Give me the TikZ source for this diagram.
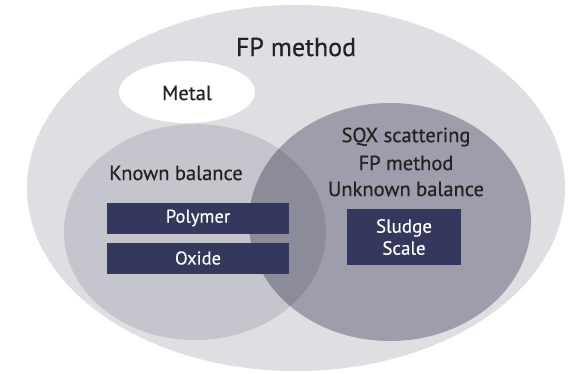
\documentclass[tikz,border=0pt]{standalone}
\usepackage{fontspec}
\setmainfont{PT Sans}[FakeBold=0.4]
\definecolor{outergray}{HTML}{DEDEE3}
\definecolor{knowngray}{HTML}{C5C5CD}
\definecolor{unknowngray}{HTML}{9D9DAB}
\definecolor{overlapgray}{HTML}{8B8B99}
\definecolor{boxblue}{HTML}{33385C}
\definecolor{textdark}{HTML}{222222}
\tikzset{
    matbox/.style={fill=boxblue,text=white,font=\fontsize{18.5}{20}\selectfont,inner sep=0pt,align=center},
    lbl/.style={text=textdark,font=\fontsize{20.5}{23}\selectfont,align=center}
}

\begin{document}
\begin{tikzpicture}[x=1pt,y=-1pt]
    \useasboundingbox (0,0) rectangle (572,373);
    % outer FP method region
    \fill[outergray] (296,188) ellipse [x radius=269,y radius=183];
    \node[lbl,font=\fontsize{26}{30}\selectfont] (fp) at (296,47) {FP method};
    \fill[white] (187,92) ellipse [x radius=68,y radius=31];
    \node[lbl] (metal) at (187,93) {Metal};
    % known / unknown balance
    \fill[knowngray] (195,232) ellipse [x radius=131,y radius=108];
    \fill[unknowngray] (390,222) ellipse [x radius=141,y radius=119];
    \begin{scope}
	\clip (195,232) ellipse [x radius=131,y radius=108];
	\fill[overlapgray] (390,222) ellipse [x radius=141,y radius=119];
    \end{scope}
    \node[lbl] (known) at (176,173) {Known balance};
    \node[lbl] (sqx) at (406,137) {SQX scattering};
    \node[lbl] (fpsub) at (406,163) {FP method};
    \node[lbl] (unknown) at (406,189) {Unknown balance};
    % materials
    \node[matbox,minimum width=182pt,minimum height=31pt] (polymer) at (198,218) {Polymer};
    \node[matbox,minimum width=182pt,minimum height=31pt] (oxide) at (198,258) {Oxide};
    \node[matbox,minimum width=114pt,minimum height=56pt,font=\fontsize{19}{22}\selectfont] (sludge) at (404,237) {Sludge\\Scale};
\end{tikzpicture}
\end{document}
